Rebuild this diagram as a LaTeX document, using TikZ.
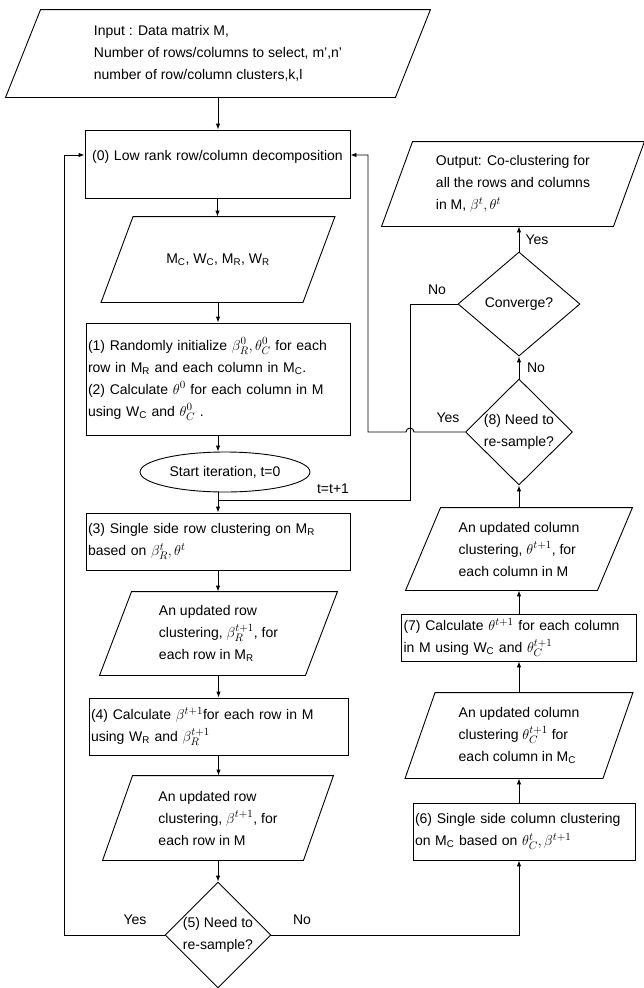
\documentclass[tikz,border=0pt]{standalone}
\usepackage{fontspec}
\setmainfont{Liberation Sans}
\usetikzlibrary{shapes.geometric,arrows.meta,calc}
\newcommand\tsub[1]{\textsubscript{#1}}
\newcommand\mm[1]{{\fontsize{15}{22}\selectfont$#1$}}
\newcommand\parabox[2]{\draw ([xshift=#2pt]#1.north west) -- (#1.north east) -- ([xshift=-#2pt]#1.south east) -- (#1.south west) -- cycle;}
\begin{document}
\begin{tikzpicture}[x=1pt,y=-1pt,line width=0.9pt,
  every node/.style={font=\fontsize{14}{22}\selectfont},
  boxnode/.style={draw, rectangle, align=left, inner xsep=2pt, inner ysep=0pt},
  paranode/.style={align=left, inner sep=0pt},
  dia/.style={draw, diamond, align=center, inner sep=-4pt},
  lbl/.style={inner sep=1pt},
  arr/.style={-{Latex[length=6pt,width=4.5pt]}}]
\useasboundingbox (0,0) rectangle (644,988);
% left column
\node[paranode, minimum width=424, minimum height=87] (inp) at (218,53.5)
  {Input : Data matrix M,\\Number of rows/columns to select, m',n'\\number of row/column clusters,k,l};
\parabox{inp}{35}
\node[boxnode, text width=261pt, align=center, text height=30pt, text depth=38pt] (b0) at (217.5,164)
  {(0) Low rank row/column decomposition};
\node[paranode, minimum width=233, minimum height=85] (p1) at (218,259.5)
  {M\tsub{C}, W\tsub{C}, M\tsub{R}, W\tsub{R}};
\parabox{p1}{32}
\node[boxnode, text width=260pt, minimum height=112] (b1) at (218,379)
  {(1) Randomly initialize \mm{\beta_R^0,\theta_C^0} for each\\row in M\tsub{R} and each column in M\tsub{C}.\\(2) Calculate \mm{\theta^0} for each column in M\\using W\tsub{C} and \mm{\theta_C^0} .};
\node[draw, ellipse, minimum width=170, minimum height=40, inner sep=0pt] (st) at (225,472)
  {Start iteration, t=0};
\node[boxnode, text width=260pt, minimum height=57] (b3) at (218,541.5)
  {(3) Single side row clustering on M\tsub{R}\\based on \mm{\beta_R^t,\theta^t}};
\node[paranode, minimum width=237, minimum height=83] (p2) at (218.5,633.5)
  {An updated row\\clustering, \mm{\beta_R^{t+1}}, for\\each row in M\tsub{R}};
\parabox{p2}{32}
\node[boxnode, text width=255pt, minimum height=57] (b4) at (218.5,726.5)
  {(4) Calculate \mm{\beta^{t+1}}for each row in M\\using W\tsub{R} and \mm{\beta_R^{t+1}}};
\node[paranode, minimum width=230, minimum height=84] (p3) at (218,818)
  {An updated row\\clustering, \mm{\beta^{t+1}}, for\\each row in M};
\parabox{p3}{30}
\node[dia, minimum width=106, minimum height=106] (d5) at (218,935)
  {(5) Need to\\re-sample?};
% right column
\node[paranode, minimum width=262, minimum height=84] (out) at (513,184)
  {Output: Co-clustering for\\all the rows and columns\\in M, \mm{\beta^t,\theta^t}};
\parabox{out}{31}
\node[dia, minimum width=122, minimum height=104] (conv) at (519,304) {Converge?};
\node[dia, minimum width=107, minimum height=106] (d8) at (519,432)
  {(8) Need to\\re-sample?};
\node[paranode, minimum width=226, minimum height=82] (p4) at (519,549)
  {An updated column\\clustering, \mm{\theta^{t+1}}, for\\each column in M};
\parabox{p4}{35}
\node[boxnode, text width=231pt, minimum height=47] (b7) at (519,637.5)
  {(7) Calculate \mm{\theta^{t+1}} for each column\\in M using W\tsub{C} and \mm{\theta_C^{t+1}}};
\node[paranode, minimum width=227, minimum height=85] (p5) at (519,735.5)
  {An updated column\\clustering \mm{\theta_C^{t+1}} for\\each column in M\tsub{C}};
\parabox{p5}{30}
\node[boxnode, text width=218pt, minimum height=57] (b6) at (524,831.5)
  {(6) Single side column clustering\\on M\tsub{C} based on \mm{\theta_C^t,\beta^{t+1}}};
% helper coordinates
\coordinate (j) at (218,500);
\coordinate (jx) at (410,500);
\coordinate (lft) at (64,935);
\coordinate (hopR) at (414,432);
\coordinate (rgt) at (368,432);
% connectors left column
\draw[arr] (inp.south) -- (inp.south |- b0.north);
\draw[arr] (b0.south) -- (b0.south |- p1.north);
\draw[arr] (p1.south) -- (p1.south |- b1.north);
\draw[arr] (b1.south) -- (b1.south |- st.north);
\draw[arr] (b1.south |- st.south) -- (b1.south |- b3.north);
\draw[arr] (b3.south) -- (b3.south |- p2.north);
\draw[arr] (p2.south) -- (p2.south |- b4.north);
\draw[arr] (b4.south) -- (b4.south |- p3.north);
\draw[arr] (p3.south) -- (p3.south |- d5.north);
\draw[arr] (d5.west) -- (lft) |- ([yshift=9pt]b0.west);
\draw[arr] (d5.east) -| ([xshift=-5pt]b6.south);
% connectors right column
\draw[arr] ([xshift=-5pt]b6.north) -- (p5.south);
\draw[arr] (p5.north) -- (b7.south);
\draw[arr] (b7.north) -- (p4.south);
\draw[arr] (p4.north) -- (d8.south);
\draw[arr] (d8.north) -- (conv.south);
\draw[arr] (conv.north) -- (conv.north |- out.south);
\draw (conv.west) -| (jx) -- (j);
\draw[arr] (d8.west) -- (hopR) arc[start angle=0, end angle=180, radius=4pt] -- (rgt) |- ([yshift=9pt]b0.east);
% labels
\node[lbl] (tt) at (333,489) {t=t+1};
\node[lbl] (y5) at (135,920) {Yes};
\node[lbl] (n5) at (302,920) {No};
\node[lbl] (nc) at (437,290) {No};
\node[lbl] (yc) at (537,240) {Yes};
\node[lbl] (n8) at (536,368) {No};
\node[lbl] (y8) at (448,418) {Yes};
\end{tikzpicture}
\end{document}
